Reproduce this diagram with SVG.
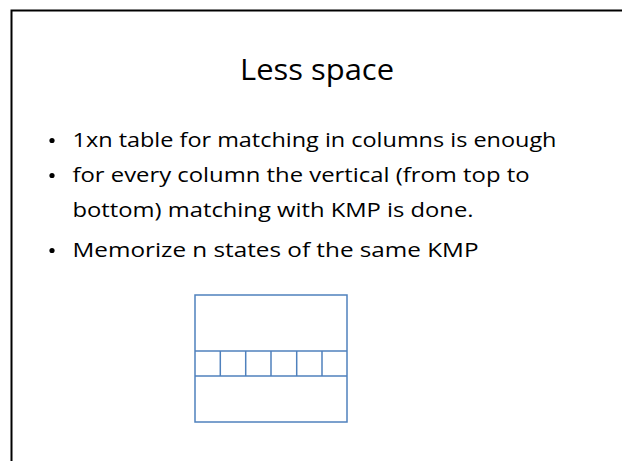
<svg xmlns="http://www.w3.org/2000/svg" width="622" height="461" viewBox="0 0 622 461">
  <style>
    .title { font-family: "Open Sans", "Liberation Sans", sans-serif; font-size: 30px; fill: #000; }
    .body { font-family: "Open Sans", "Liberation Sans", sans-serif; font-size: 19.5px; fill: #000; }
    .cell { fill: none; stroke: #4F81BD; stroke-width: 1.5; }
  </style>
  <rect width="622" height="461" fill="#fff"/>
  <!-- slide frame -->
  <rect x="11.5" y="10.5" width="620" height="460" fill="none" stroke="#000" stroke-width="2"/>

  <g id="title">
    <text class="title" x="240" y="80" textLength="154" lengthAdjust="spacingAndGlyphs">Less space</text>
  </g>

  <g id="bullets">
    <circle cx="52" cy="140.5" r="2.6" fill="#000"/>
    <text class="body" x="72.5" y="146.7" textLength="484" lengthAdjust="spacingAndGlyphs">1xn table for matching in columns is enough</text>
    <circle cx="52" cy="175.5" r="2.6" fill="#000"/>
    <text class="body" x="72.5" y="181.7" textLength="457" lengthAdjust="spacingAndGlyphs">for every column the vertical (from top to</text>
    <text class="body" x="72.5" y="216.7" textLength="401" lengthAdjust="spacingAndGlyphs">bottom) matching with KMP is done.</text>
    <circle cx="52" cy="250.5" r="2.6" fill="#000"/>
    <text class="body" x="72.5" y="256.7" textLength="406" lengthAdjust="spacingAndGlyphs">Memorize n states of the same KMP</text>
  </g>

  <g id="table">
    <rect class="cell" x="195" y="295" width="152" height="127"/>
    <line class="cell" x1="195" y1="351" x2="347" y2="351"/>
    <line class="cell" x1="195" y1="376" x2="347" y2="376"/>
    <line class="cell" x1="220.3" y1="351" x2="220.3" y2="376"/>
    <line class="cell" x1="245.7" y1="351" x2="245.7" y2="376"/>
    <line class="cell" x1="271" y1="351" x2="271" y2="376"/>
    <line class="cell" x1="296.7" y1="351" x2="296.7" y2="376"/>
    <line class="cell" x1="322" y1="351" x2="322" y2="376"/>
  </g>
</svg>
